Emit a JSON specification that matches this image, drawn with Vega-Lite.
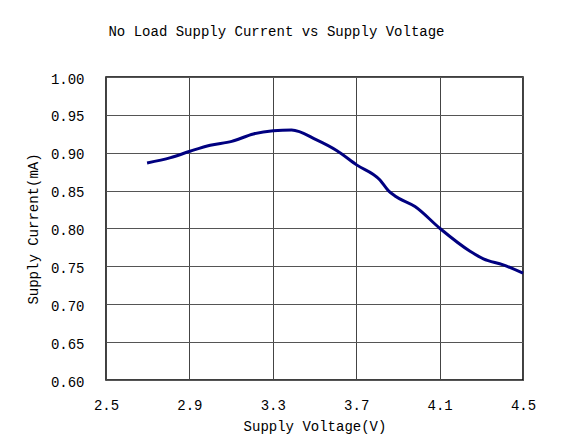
{
  "$schema": "https://vega.github.io/schema/vega-lite/v6.json",
  "autosize": {"type": "none"},
  "padding": {"left": 106, "top": 77, "right": 46, "bottom": 65},
  "width": 417,
  "height": 303,
  "background": "white",
  "title": {
    "text": "No Load Supply Current vs Supply Voltage",
    "font": "Liberation Mono",
    "fontSize": 14,
    "fontWeight": "normal",
    "color": "black",
    "anchor": "middle",
    "frame": "group",
    "dx": -38,
    "offset": 33
  },
  "data": {
    "values": [
      {"voltage": 2.697, "current": 0.8865},
      {"voltage": 2.81, "current": 0.8935},
      {"voltage": 2.903, "current": 0.902},
      {"voltage": 3.0, "current": 0.910},
      {"voltage": 3.103, "current": 0.915},
      {"voltage": 3.207, "current": 0.9248},
      {"voltage": 3.302, "current": 0.929},
      {"voltage": 3.39, "current": 0.930},
      {"voltage": 3.51, "current": 0.917},
      {"voltage": 3.606, "current": 0.903},
      {"voltage": 3.702, "current": 0.884},
      {"voltage": 3.814, "current": 0.864},
      {"voltage": 3.854, "current": 0.850},
      {"voltage": 3.886, "current": 0.843},
      {"voltage": 3.982, "current": 0.829},
      {"voltage": 4.102, "current": 0.800},
      {"voltage": 4.246, "current": 0.770},
      {"voltage": 4.31, "current": 0.760},
      {"voltage": 4.405, "current": 0.752},
      {"voltage": 4.5, "current": 0.741}
    ]
  },
  "mark": {"type": "line", "color": "#000080", "strokeWidth": 3, "interpolate": "monotone"},
  "encoding": {
    "x": {
      "field": "voltage",
      "type": "quantitative",
      "scale": {"domain": [2.5, 4.5], "nice": false, "zero": false},
      "axis": {
        "title": "Supply Voltage(V)",
        "values": [2.5, 2.9, 3.3, 3.7, 4.1, 4.5],
        "format": ".1f",
        "ticks": false,
        "domain": false,
        "labelFlush": false,
        "labelPadding": 18,
        "labelBaseline": "top",
        "gridColor": "#444",
        "gridOpacity": 1,
        "gridWidth": 1,
        "titlePadding": 7
      }
    },
    "y": {
      "field": "current",
      "type": "quantitative",
      "scale": {"domain": [0.6, 1.0], "nice": false, "zero": false},
      "axis": {
        "title": "Supply Current(mA)",
        "values": [0.6, 0.65, 0.7, 0.75, 0.8, 0.85, 0.9, 0.95, 1.0],
        "format": ".2f",
        "ticks": false,
        "domain": false,
        "labelFlush": false,
        "labelPadding": 22,
        "labelOffset": 2,
        "gridColor": "#555",
        "gridOpacity": 1,
        "gridWidth": 1,
        "titlePadding": 10
      }
    }
  },
  "config": {
    "view": {"stroke": "black", "strokeWidth": 1.5},
    "axis": {
      "labelFont": "Liberation Mono",
      "labelFontSize": 14,
      "labelColor": "black",
      "titleFont": "Liberation Mono",
      "titleFontSize": 14,
      "titleFontWeight": "normal",
      "titleColor": "black"
    }
  }
}
